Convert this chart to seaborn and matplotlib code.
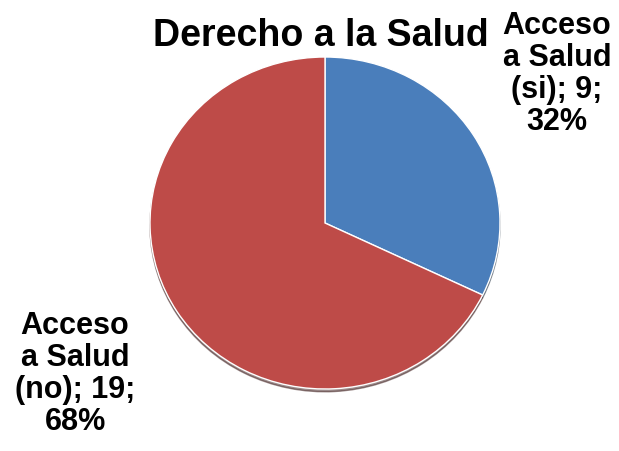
import matplotlib
matplotlib.use("Agg")
import matplotlib.pyplot as plt
import seaborn as sns

# datos
categorias = ["Acceso a Salud (si)", "Acceso a Salud (no)"]
valores = [9, 19]
colores = ["#4a7ebb", "#be4b48"]

sns.set_theme(style="white")
plt.rcParams["font.family"] = ["Liberation Sans", "DejaVu Sans"]

W, H = 619, 451
fig = plt.figure(figsize=(W / 100, H / 100), dpi=100)

# pastel algo achatado, como en la imagen original
cx, cy, rx, ry = 325, 223, 175, 166
ax = fig.add_axes([(cx - rx) / W, (H - cy - ry) / H, 2 * rx / W, 2 * ry / H])

ax.pie(
    valores,
    colors=colores,
    startangle=90,
    counterclock=False,
    radius=1.0,
    wedgeprops={"edgecolor": "white", "linewidth": 1.0},
    shadow={"ox": 0.0, "oy": -0.012, "shade": 0.7},
)
ax.set_xlim(-1.0, 1.0)
ax.set_ylim(-1.0, 1.0)
ax.set_aspect("auto")
ax.axis("off")

total = sum(valores)


def etiqueta(nombre, v):
    base, paren = nombre.rsplit(" ", 1)
    a, b = base.split(" ", 1)
    return f"{a}\n{b}\n{paren}; {v};\n{round(100 * v / total)}%"


fig.text(321 / W, 1 - 36 / H, "Derecho a la Salud", ha="center", va="center",
         fontsize=27, fontweight="bold", color="black")

label_kw = dict(ha="center", va="center", fontsize=22, fontweight="bold",
                color="black", linespacing=1.1)
fig.text(557 / W, 1 - 74 / H, etiqueta(categorias[0], valores[0]), **label_kw)
fig.text(75 / W, 1 - 374 / H, etiqueta(categorias[1], valores[1]), **label_kw)

fig.savefig("out.png", dpi=100)
